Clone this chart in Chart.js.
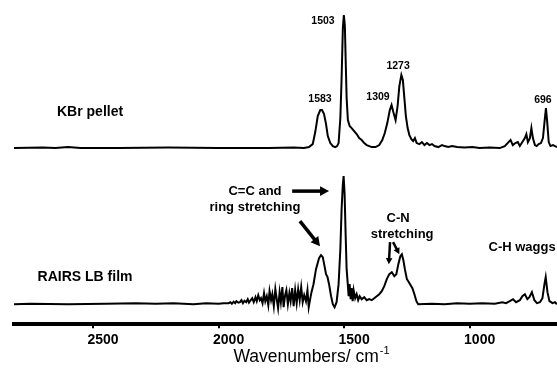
<!DOCTYPE html>
<html>
<head>
<meta charset="utf-8">
<script src="https://cdn.jsdelivr.net/npm/chart.js@4.4.1/dist/chart.umd.min.js"></script>
<style>
  html, body { margin: 0; padding: 0; background: #fff; }
</style>
</head>
<body>
<canvas id="irChart" width="557" height="368"></canvas>
<script>
// KBr pellet spectrum (wavenumber / relative absorbance)
const kbrWave = [2815, 2700, 2650, 2600, 2550, 2400, 2200, 2000, 1800, 1700, 1660, 1640, 1625, 1615, 1605, 1595, 1588, 1580, 1572, 1565, 1555, 1545, 1535, 1528, 1522, 1515, 1510, 1505, 1501, 1497, 1494, 1490, 1485, 1478, 1470, 1460, 1450, 1440, 1430, 1420, 1410, 1400, 1390, 1375, 1360, 1348, 1338, 1328, 1318, 1311, 1304, 1295, 1287, 1280, 1272, 1266, 1260, 1254, 1247, 1240, 1232, 1225, 1218, 1211, 1200, 1190, 1180, 1170, 1160, 1150, 1140, 1125, 1110, 1100, 1085, 1070, 1050, 1020, 990, 960, 920, 880, 860, 845, 837, 828, 818, 808, 800, 790, 780, 774, 768, 760, 754, 748, 740, 733, 725, 716, 708, 701, 696, 691, 685, 678, 668, 660, 652];
const kbrAbs = [0, 0.5, 0, 1, 0, 0, 0.5, 0, 0, 0.5, 0, 1, 4, 16, 32, 38, 38, 34, 24, 12, 5, 2, 1, 2, 5, 30, 70, 120, 133, 122, 90, 50, 28, 22, 20, 17, 14, 10, 8, 5, 3, 2, 1, 1, 3, 8, 15, 25, 38, 43, 36, 28, 42, 62, 73, 68, 50, 32, 20, 13, 9, 7, 10, 5, 4, 6, 3, 5, 3, 4, 2, 1, 3, 2, 1, 2, 1, 0.5, 1, 0, 0.5, 0, 2, 6, 8, 3, 5, 6, 2, 6, 10, 14, 6, 10, 20, 10, 3, 2, 4, 5, 10, 28, 40, 26, 6, 2, 3, 2, 1];

// RAIRS LB film spectrum
const lbWave = [2815, 2750, 2600, 2450, 2330, 2250, 2180, 2100, 2050, 2000, 1980, 1960, 1953, 1947, 1940, 1934, 1929, 1921, 1915, 1909, 1903, 1897, 1890, 1884, 1879, 1872, 1866, 1860, 1853, 1848, 1842, 1836, 1831, 1825, 1819, 1814, 1808, 1802, 1797, 1791, 1786, 1780, 1774, 1769, 1763, 1757, 1752, 1746, 1741, 1735, 1730, 1724, 1718, 1713, 1707, 1701, 1695, 1689, 1683, 1677, 1671, 1665, 1659, 1652, 1646, 1641, 1636, 1630, 1622, 1612, 1600, 1592, 1585, 1578, 1572, 1566, 1560, 1552, 1545, 1538, 1530, 1522, 1515, 1510, 1505, 1502, 1498, 1494, 1490, 1486, 1482, 1478, 1474, 1470, 1466, 1462, 1456, 1450, 1444, 1438, 1430, 1420, 1410, 1400, 1390, 1380, 1370, 1360, 1350, 1340, 1330, 1320, 1310, 1300, 1292, 1284, 1276, 1270, 1264, 1258, 1250, 1242, 1235, 1228, 1220, 1212, 1205, 1150, 1100, 1050, 1000, 950, 900, 870, 855, 840, 827, 815, 800, 790, 780, 770, 762, 752, 742, 732, 720, 710, 702, 697, 690, 682, 670, 660, 652];
const lbAbs = [0, 0.5, 0, 0.5, 1, 0.5, 1, 0, 1, 0.5, 1, 1, 2, 0.5, 2.5, 1, 3, 1.5, 2, 4, 1, 3.5, 2, 5, 1.5, 4, 6, 2, 7, 3, 9, 4, 6, 1, 11, 3, 8, -1, 13, 4, 10, -2, 15, 6, -4, 12, 2, 17, -3, 9, 14, 0, 11, 3, 16, -2, 14, 1, 15, 4, 17, 2, 9, 3, 14, -3, 4, 12, 20, 35, 46, 49, 47, 38, 30, 27, 20, 8, 0, -3, 2, 20, 55, 95, 120, 128, 110, 70, 35, 22, 8, 20, 5, 16, 3, 14, 6, 10, 4, 8, 5, 7, 4, 5, 4, 6, 8, 10, 13, 18, 25, 30, 32, 28, 30, 40, 48, 50, 44, 35, 25, 22, 19, 16, 10, 3, 0, 0.5, 0, 1, 0.5, 1, 0.5, 2, 1, 3, 5, 2, 4, 8, 10, 5, 7, 12, 4, 1, 2, 6, 20, 27, 12, 3, 1, 2, 0];

const kbrOffset = 176;
const lbOffset = 20;
const xTicks = [2500, 2000, 1500, 1000];

const family = '"Liberation Sans", Arial, sans-serif';

// text labels and arrows, anchored in data coordinates (wavenumber, intensity)
const notes = [
    { text: '1503', w: 1584, v: 303, size: 10.5 },
    { text: '1583', w: 1596, v: 225, size: 10.5 },
    { text: '1309', w: 1365, v: 227, size: 10.5 },
    { text: '1273', w: 1285, v: 258, size: 10.5 },
    { text: '696', w: 708, v: 224, size: 10.5 },
    { text: 'KBr pellet', w: 2512, v: 212, size: 14 },
    { text: 'RAIRS LB film', w: 2532, v: 47, size: 14 },
    { text: 'C=C and', w: 1855, v: 133, size: 13 },
    { text: 'ring stretching', w: 1855, v: 117, size: 13 },
    { text: 'C-N', w: 1285, v: 106, size: 13 },
    { text: 'stretching', w: 1269, v: 90, size: 13 },
    { text: 'C-H waggs', w: 791, v: 77, size: 13 }
];
const arrows = [
    { from: [1707, 133], to: [1560, 133], head: 9 },
    { from: [1676, 103], to: [1596, 78], head: 9 },
    { from: [1317, 82], to: [1322, 60], head: 6 },
    { from: [1305, 82], to: [1280, 70], head: 6 }
];

const notePlugin = {
    id: 'notes',
    afterDraw(chart) {
        const ctx = chart.ctx;
        const xs = chart.scales.x;
        const ys = chart.scales.y;
        ctx.save();
        ctx.fillStyle = '#000';
        ctx.strokeStyle = '#000';
        ctx.textAlign = 'center';
        ctx.textBaseline = 'middle';
        notes.forEach(function(n) {
            ctx.font = 'bold ' + n.size + 'px ' + family;
            ctx.fillText(n.text, xs.getPixelForValue(n.w), ys.getPixelForValue(n.v));
        });

        arrows.forEach(function(a) {
            const x1 = xs.getPixelForValue(a.from[0]), y1 = ys.getPixelForValue(a.from[1]);
            const x2 = xs.getPixelForValue(a.to[0]), y2 = ys.getPixelForValue(a.to[1]);
            const ang = Math.atan2(y2 - y1, x2 - x1);
            const h = a.head;
            ctx.lineWidth = a.head > 7 ? 3.5 : 2.5;
            ctx.beginPath();
            ctx.moveTo(x1, y1);
            ctx.lineTo(x2 - Math.cos(ang) * h * 0.8, y2 - Math.sin(ang) * h * 0.8);
            ctx.stroke();
            ctx.beginPath();
            ctx.moveTo(x2, y2);
            ctx.lineTo(x2 - Math.cos(ang) * h + Math.sin(ang) * h * 0.55, y2 - Math.sin(ang) * h - Math.cos(ang) * h * 0.55);
            ctx.lineTo(x2 - Math.cos(ang) * h - Math.sin(ang) * h * 0.55, y2 - Math.sin(ang) * h + Math.cos(ang) * h * 0.55);
            ctx.closePath();
            ctx.fill();
        });

        // axis title with superscript
        const main = 'Wavenumbers/ cm';
        const sup = '-1';
        ctx.font = '17.5px ' + family;
        const wMain = ctx.measureText(main).width;
        ctx.font = '11px ' + family;
        const wSup = ctx.measureText(sup).width;
        const cx = 311;
        const cy = 357;
        const left = cx - (wMain + wSup) / 2;
        ctx.textAlign = 'left';
        ctx.font = '17.5px ' + family;
        ctx.fillText(main, left, cy);
        ctx.font = '11px ' + family;
        ctx.fillText(sup, left + wMain + 1, cy - 6);
        ctx.restore();
    }
};

const ctx = document.getElementById('irChart');
const irChart = new Chart(ctx, {
    type: 'line',
    data: {
        datasets: [
            {
                label: 'KBr pellet',
                data: kbrWave.map(function(w, i) { return { x: w, y: kbrAbs[i] + kbrOffset }; }),
                borderColor: '#000',
                borderWidth: 2,
                pointRadius: 0,
                tension: 0,
                fill: false
            },
            {
                label: 'RAIRS LB film',
                data: lbWave.map(function(w, i) { return { x: w, y: lbAbs[i] + lbOffset }; }),
                borderColor: '#000',
                borderWidth: 2,
                pointRadius: 0,
                tension: 0,
                fill: false
            }
        ]
    },
    options: {
        responsive: false,
        animation: false,
        layout: { padding: { left: 14, right: 0, top: 10, bottom: 15 } },
        plugins: {
            legend: { display: false },
            tooltip: { enabled: false }
        },
        scales: {
            x: {
                type: 'linear',
                reverse: true,
                min: 652,
                max: 2815,
                afterBuildTicks: function(scale) {
                    scale.ticks = xTicks.map(function(v) { return { value: v }; });
                },
                grid: { display: true, drawOnChartArea: false, drawTicks: true, tickLength: 4, lineWidth: 2, color: '#000' },
                border: { display: true, width: 4, color: '#000' },
                ticks: {
                    color: '#000',
                    font: { family: family, size: 14, weight: 'bold' },
                    labelOffset: 10,
                    padding: 4,
                    maxRotation: 0,
                    autoSkip: false,
                    callback: function(value) { return String(value); }
                }
            },
            y: { display: false, min: 0, max: 314 }
        }
    },
    plugins: [notePlugin]
});
</script>
</body>
</html>
